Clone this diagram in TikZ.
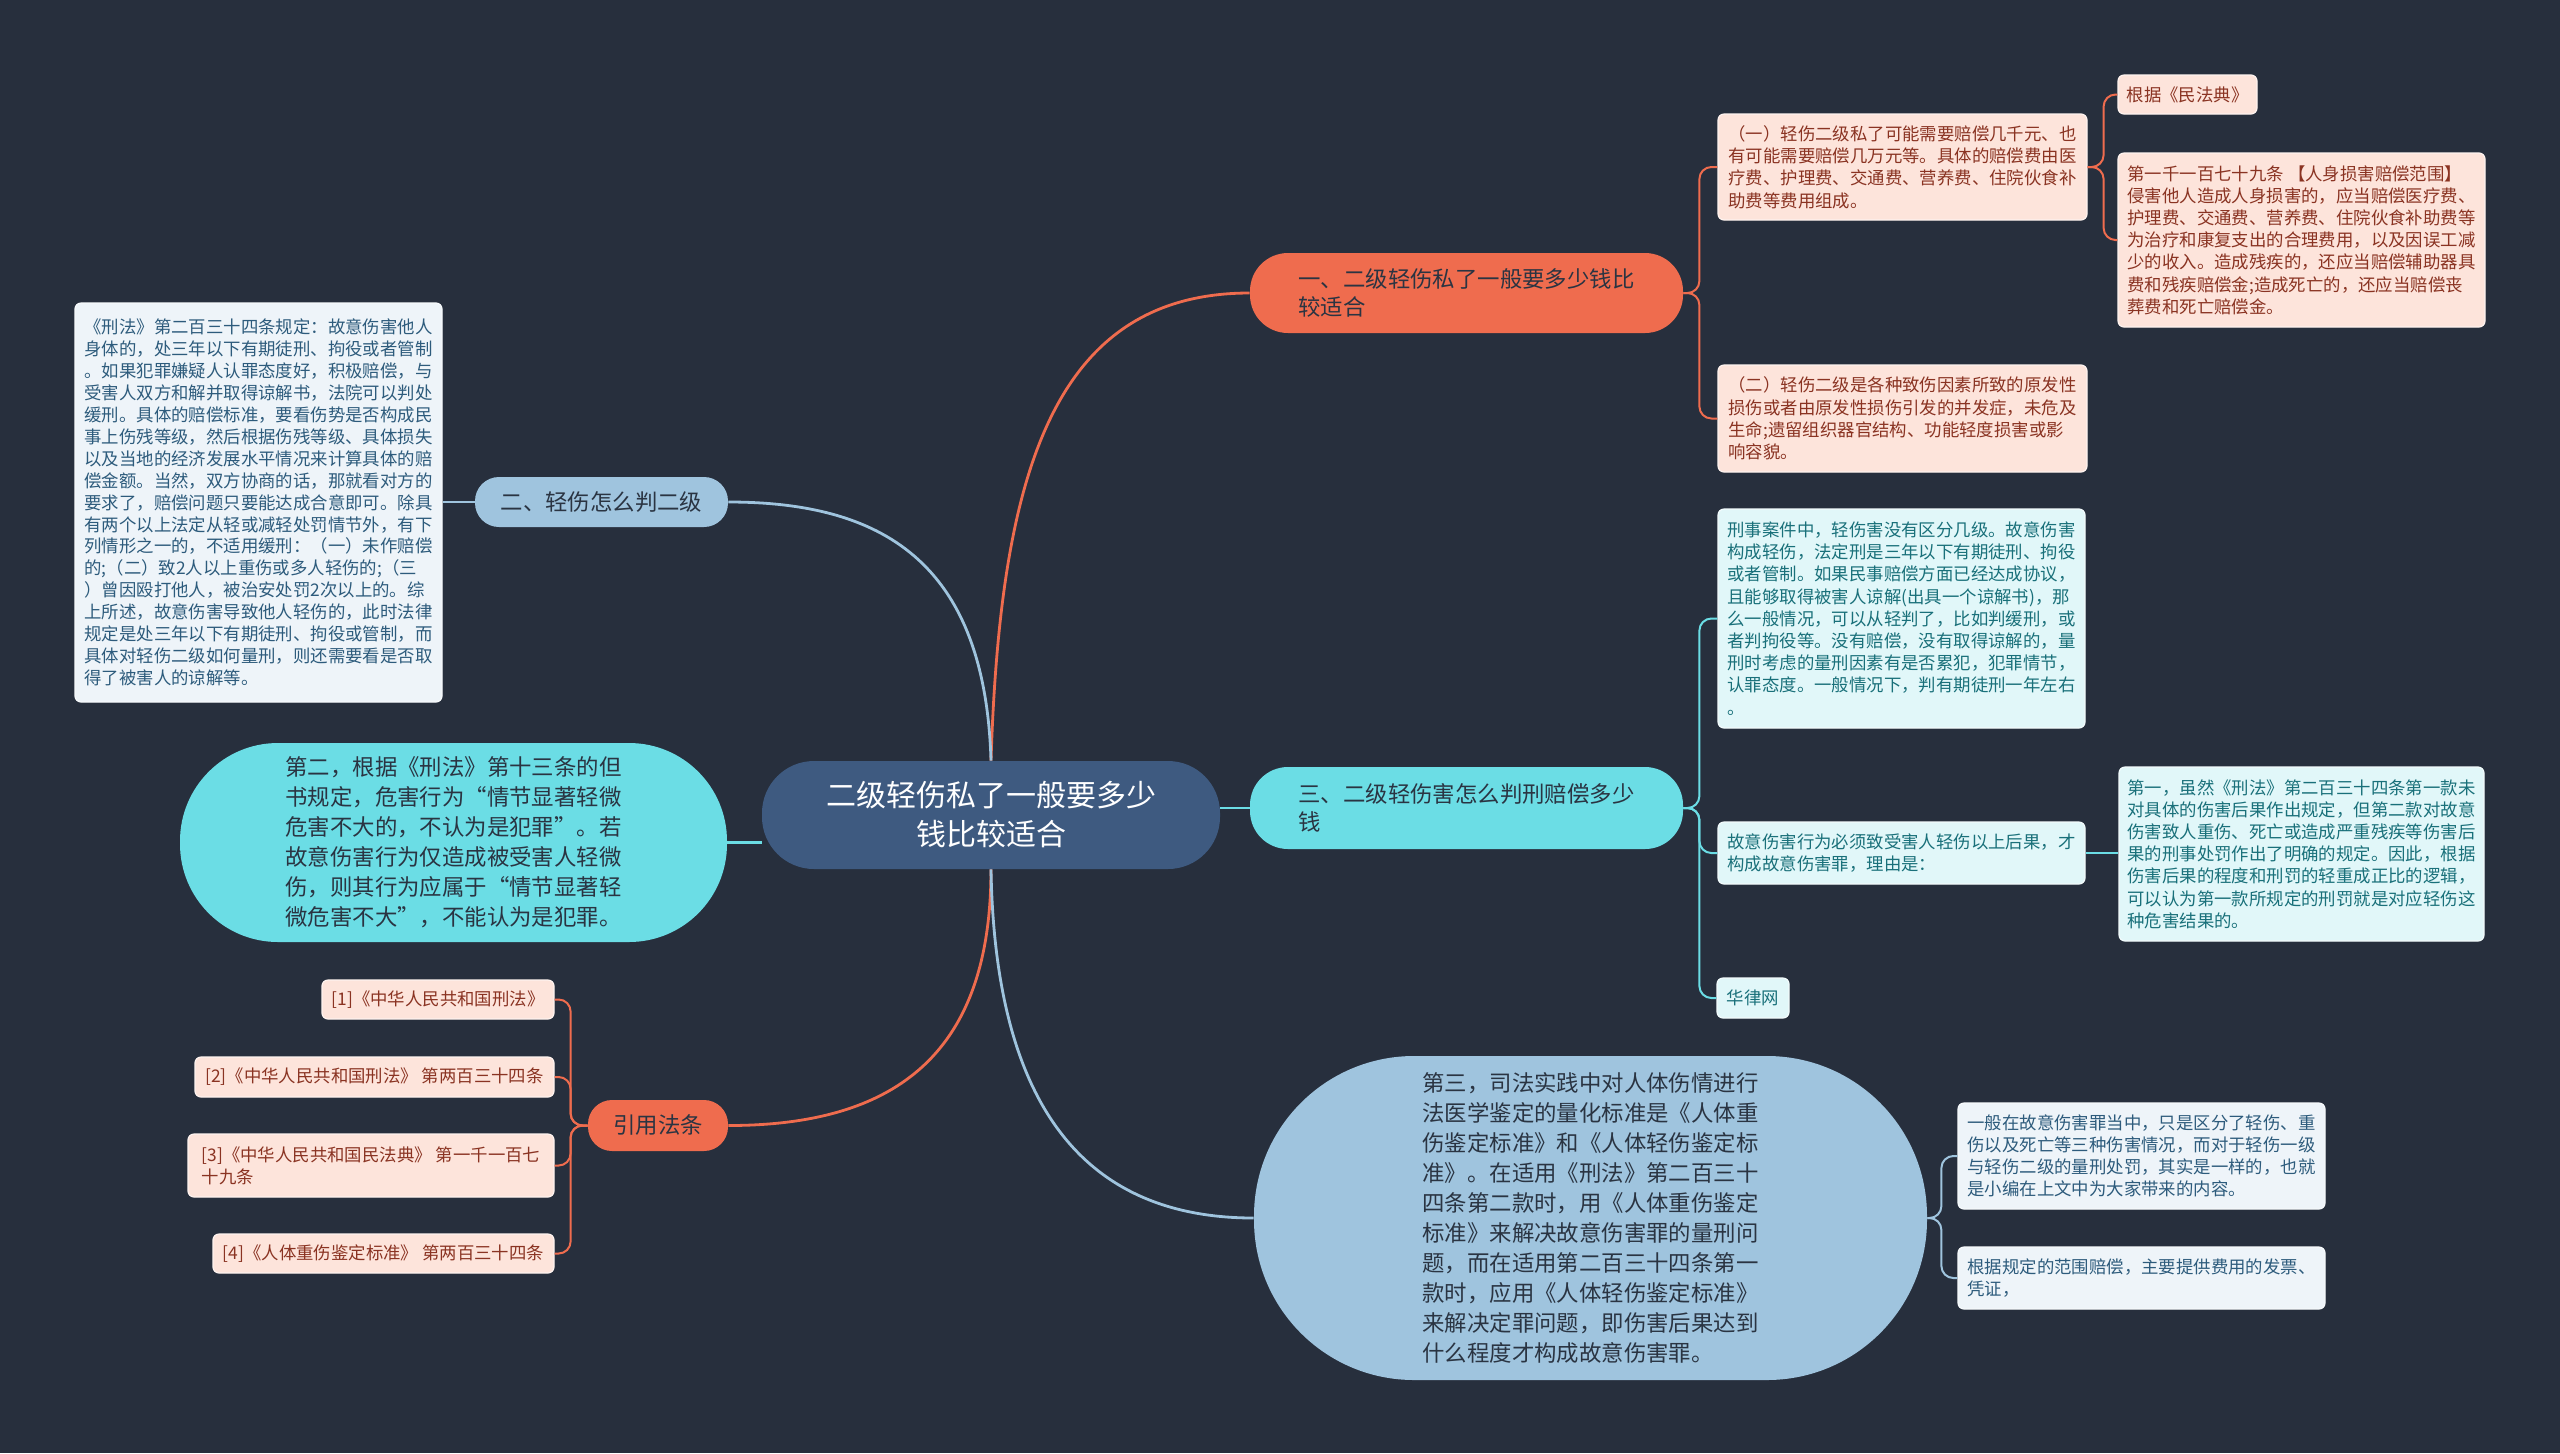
\documentclass[tikz,border=0pt]{standalone}
\usepackage{fontspec}
\setmainfont{Noto Sans CJK SC}
\definecolor{bgc}{HTML}{272F3D}
\definecolor{ctrc}{HTML}{3E5A80}
\definecolor{orc}{HTML}{EF6C4E}
\definecolor{blc}{HTML}{9FC4DE}
\definecolor{cyc}{HTML}{6BDDE5}
\definecolor{ofill}{HTML}{FDE4DB}
\definecolor{otext}{HTML}{8A3322}
\definecolor{bfill}{HTML}{EEF4F9}
\definecolor{btext}{HTML}{2D5B7C}
\definecolor{cfill}{HTML}{E1F7F9}
\definecolor{ctext}{HTML}{19707A}
\definecolor{darkt}{HTML}{2A3442}
\begin{document}
\begin{tikzpicture}[x=0.5pt,y=-0.5pt,
  sbox/.style={rounded corners=3pt, inner sep=0pt, align=left, line width=0.6pt,
    font=\fontsize{8.7}{11.1}\selectfont},
  obox/.style={sbox, fill=ofill, draw=white!55!ofill, text=otext},
  bbox/.style={sbox, fill=bfill, draw=white!55!bfill, text=btext},
  cbox/.style={sbox, fill=cfill, draw=white!55!cfill, text=ctext},
  pill/.style={inner sep=0pt, align=left, font=\fontsize{11.2}{14.3}\selectfont},
  bubble/.style={inner sep=0pt, align=left, font=\fontsize{11.2}{15}\selectfont, text=darkt},
  mainline/.style={line width=1.4pt},
  subline/.style={line width=1pt, rounded corners=6pt},
]
\fill[bgc] (0,0) rectangle (2560,1453);
\useasboundingbox (0,0) rectangle (2560,1453);

% center
\node[fill=ctrc, rounded corners=26pt, minimum width=229pt, minimum height=54pt, inner sep=0pt,
  align=center, text=white, font=\fontsize{15}{19.5}\selectfont] (ctr) at (991,815)
  {二级轻伤私了一般要多少\\钱比较适合};

% branches
\node[pill, fill=orc, text=darkt, rounded corners=19pt, minimum width=216.5pt, minimum height=40pt] (b1) at (1466.5,293)
  {一、二级轻伤私了一般要多少钱比\\较适合};
\node[pill, fill=blc, text=darkt, rounded corners=12pt, minimum width=126.5pt, minimum height=25pt, align=center] (b2) at (601.5,502)
  {二、轻伤怎么判二级};
\node[pill, fill=cyc, text=darkt, rounded corners=19pt, minimum width=216.5pt, minimum height=41pt] (b3) at (1466.5,808)
  {三、二级轻伤害怎么判刑赔偿多少\\钱};
\node[pill, fill=orc, text=darkt, rounded corners=12pt, minimum width=70pt, minimum height=25.5pt, align=center] (b4) at (658,1125.5)
  {引用法条};
\node[bubble, fill=cyc, rounded corners=49pt, minimum width=273.5pt, minimum height=99.5pt] (b5) at (453.5,842.5)
  {第二，根据《刑法》第十三条的但\\书规定，危害行为“情节显著轻微\\危害不大的，不认为是犯罪”。若\\故意伤害行为仅造成被受害人轻微\\伤，则其行为应属于“情节显著轻\\微危害不大”，不能认为是犯罪。};
\node[bubble, fill=blc, rounded corners=80pt, minimum width=336.5pt, minimum height=162pt] (b6) at (1590.5,1218)
  {第三，司法实践中对人体伤情进行\\法医学鉴定的量化标准是《人体重\\伤鉴定标准》和《人体轻伤鉴定标\\准》。在适用《刑法》第二百三十\\四条第二款时，用《人体重伤鉴定\\标准》来解决故意伤害罪的量刑问\\题，而在适用第二百三十四条第一\\款时，应用《人体轻伤鉴定标准》\\来解决定罪问题，即伤害后果达到\\什么程度才构成故意伤害罪。};

% branch 1 children
\node[obox, minimum width=184.5pt, minimum height=53pt] (E) at (1902.5,167)
  {（一）轻伤二级私了可能需要赔偿几千元、也\\有可能需要赔偿几万元等。具体的赔偿费由医\\疗费、护理费、交通费、营养费、住院伙食补\\助费等费用组成。};
\node[obox, minimum width=184.5pt, minimum height=53.5pt] (F) at (1902.5,418.5)
  {（二）轻伤二级是各种致伤因素所致的原发性\\损伤或者由原发性损伤引发的并发症，未危及\\生命;遗留组织器官结构、功能轻度损害或影\\响容貌。};
\node[obox, minimum width=69.5pt, minimum height=19.5pt, align=center] (G) at (2187.5,94.5)
  {根据《民法典》};
\node[obox, minimum width=183.5pt, minimum height=87pt] (H) at (2301.5,240)
  {第一千一百七十九条 【人身损害赔偿范围】\\侵害他人造成人身损害的，应当赔偿医疗费、\\护理费、交通费、营养费、住院伙食补助费等\\为治疗和康复支出的合理费用，以及因误工减\\少的收入。造成残疾的，还应当赔偿辅助器具\\费和残疾赔偿金;造成死亡的，还应当赔偿丧\\葬费和死亡赔偿金。};

% branch 2 child
\node[bbox, minimum width=183.5pt, minimum height=199.5pt, font=\fontsize{8.7}{10.95}\selectfont] (L) at (258.5,502.5)
  {《刑法》第二百三十四条规定：故意伤害他人\\身体的，处三年以下有期徒刑、拘役或者管制\\。如果犯罪嫌疑人认罪态度好，积极赔偿，与\\受害人双方和解并取得谅解书，法院可以判处\\缓刑。具体的赔偿标准，要看伤势是否构成民\\事上伤残等级，然后根据伤残等级、具体损失\\以及当地的经济发展水平情况来计算具体的赔\\偿金额。当然，双方协商的话，那就看对方的\\要求了，赔偿问题只要能达成合意即可。除具\\有两个以上法定从轻或减轻处罚情节外，有下\\列情形之一的，不适用缓刑：（一）未作赔偿\\的;（二）致2人以上重伤或多人轻伤的;（三\\）曾因殴打他人，被治安处罚2次以上的。综\\上所述，故意伤害导致他人轻伤的，此时法律\\规定是处三年以下有期徒刑、拘役或管制，而\\具体对轻伤二级如何量刑，则还需要看是否取\\得了被害人的谅解等。};

% branch 3 children
\node[cbox, minimum width=183.5pt, minimum height=109.5pt] (A) at (1901.5,618.5)
  {刑事案件中，轻伤害没有区分几级。故意伤害\\构成轻伤，法定刑是三年以下有期徒刑、拘役\\或者管制。如果民事赔偿方面已经达成协议，\\且能够取得被害人谅解(出具一个谅解书)，那\\么一般情况，可以从轻判了，比如判缓刑，或\\者判拘役等。没有赔偿，没有取得谅解的，量\\刑时考虑的量刑因素有是否累犯，犯罪情节，\\认罪态度。一般情况下，判有期徒刑一年左右\\。};
\node[cbox, minimum width=183.5pt, minimum height=31pt] (B) at (1901.5,853)
  {故意伤害行为必须致受害人轻伤以上后果，才\\构成故意伤害罪，理由是：};
\node[cbox, minimum width=36pt, minimum height=20pt, align=center] (C) at (1753,998)
  {华律网};
\node[cbox, minimum width=182.5pt, minimum height=87pt] (D) at (2301.5,854)
  {第一，虽然《刑法》第二百三十四条第一款未\\对具体的伤害后果作出规定，但第二款对故意\\伤害致人重伤、死亡或造成严重残疾等伤害后\\果的刑事处罚作出了明确的规定。因此，根据\\伤害后果的程度和刑罚的轻重成正比的逻辑，\\可以认为第一款所规定的刑罚就是对应轻伤这\\种危害结果的。};

% branch 4 children
\node[obox, minimum width=116pt, minimum height=19.5pt, align=center] (c1) at (438,999.5)
  {[1]《中华人民共和国刑法》};
\node[obox, minimum width=179.5pt, minimum height=20pt, align=center] (c2) at (374.5,1077)
  {[2]《中华人民共和国刑法》 第两百三十四条};
\node[obox, minimum width=183pt, minimum height=31.5pt] (c3) at (371,1165.5)
  {[3]《中华人民共和国民法典》 第一千一百七\\十九条};
\node[obox, minimum width=170.5pt, minimum height=19.5pt, align=center] (c4) at (383.5,1253.5)
  {[4]《人体重伤鉴定标准》 第两百三十四条};

% branch 6 children
\node[bbox, minimum width=183.5pt, minimum height=53pt] (I) at (2141.5,1156)
  {一般在故意伤害罪当中，只是区分了轻伤、重\\伤以及死亡等三种伤害情况，而对于轻伤一级\\与轻伤二级的量刑处罚，其实是一样的，也就\\是小编在上文中为大家带来的内容。};
\node[bbox, minimum width=183.5pt, minimum height=31pt] (J) at (2141.5,1278)
  {根据规定的范围赔偿，主要提供费用的发票、\\凭证，};

% main connectors
\draw[mainline, orc] (ctr.north) .. controls (1000,480) and (1050,293) .. (b1.west);
\draw[mainline, blc] (ctr.north) .. controls (985,560) and (880,502) .. (b2.east);
\draw[mainline, cyc] (ctr.east |- b3.west) -- (b3.west);
\draw[mainline, cyc] (ctr.west |- b5.east) -- (b5.east);
\draw[mainline, orc] (ctr.south) .. controls (991,1050) and (900,1125.5) .. (b4.east);
\draw[mainline, blc] (ctr.south) .. controls (995,1100) and (1080,1218) .. (b6.west);

% sub connectors
\draw[subline, orc] (b1.east) -- ++(16,0) |- (E.west);
\draw[subline, orc] (b1.east) -- ++(16,0) |- (F.west);
\draw[subline, orc] (E.east) -- ++(16,0) |- (G.west);
\draw[subline, orc] (E.east) -- ++(16,0) |- (H.west);
\draw[subline, blc] (b2.west) -- (L.east |- b2.west);
\draw[subline, cyc] (b3.east) -- ++(16,0) |- (A.west);
\draw[subline, cyc] (b3.east) -- ++(16,0) |- (B.west);
\draw[subline, cyc] (b3.east) -- ++(16,0) |- (C.west);
\draw[subline, cyc] (B.east) -- (D.west |- B.east);
\draw[subline, orc] (b4.west) -- ++(-17,0) |- (c1.east);
\draw[subline, orc] (b4.west) -- ++(-17,0) |- (c2.east);
\draw[subline, orc] (b4.west) -- ++(-17,0) |- (c3.east);
\draw[subline, orc] (b4.west) -- ++(-17,0) |- (c4.east);
\draw[subline, blc] (b6.east) -- ++(14,0) |- (I.west);
\draw[subline, blc] (b6.east) -- ++(14,0) |- (J.west);
\end{tikzpicture}
\end{document}
